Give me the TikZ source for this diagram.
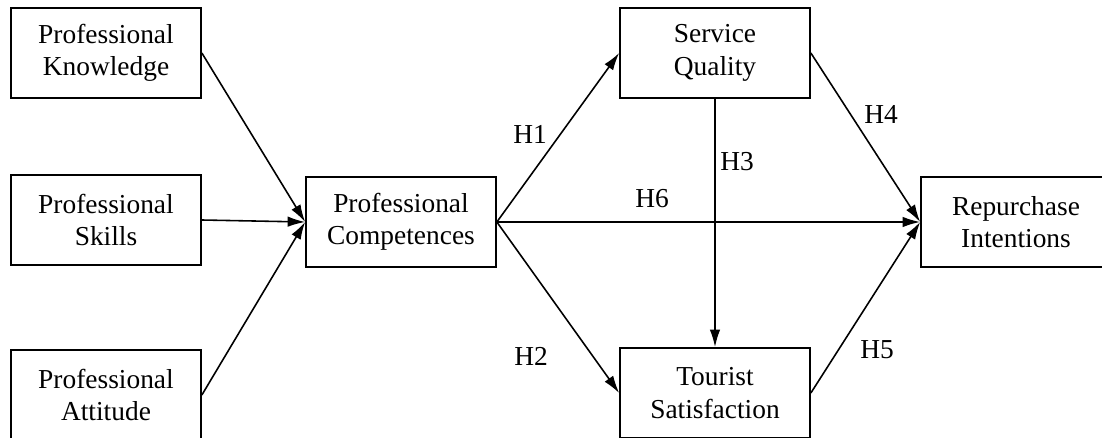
\documentclass[tikz,border=0pt]{standalone}
\usepackage{fontspec}
\setmainfont{Liberation Serif}
\usetikzlibrary{arrows.meta}

\begin{document}
\begin{tikzpicture}[x=0.02cm, y=-0.02cm]
	\tikzstyle{box} = [draw, line width=1pt, minimum width=3.8cm, minimum height=1.8cm, align=center, inner sep=0pt, font=\fontsize{15.6}{18.4}\selectfont]
	\tikzstyle{hyp} = [inner sep=0pt, font=\fontsize{15.6}{18.4}\selectfont]
	\tikzstyle{path} = [line width=0.9pt, -{Latex[length=3.5mm, width=2.1mm]}]
	\useasboundingbox (0,0) rectangle (1102,438);
	\clip (0,0) rectangle (1102,438);
	\node[box] (pk) at (106, 53) {Professional\\Knowledge};
	\node[box] (ps) at (106, 220) {Professional\\Skills};
	\node[box] (pa) at (106, 395) {Professional\\Attitude};
	\node[box] (pc) at (401, 222) {Professional\\Competences};
	\node[box] (sq) at (715, 53) {Service\\Quality};
	\node[box] (ts) at (715, 393) {Tourist\\Satisfaction};
	\node[box] (ri) at (1016, 222) {Repurchase\\Intentions};
	\node[hyp] (h1) at (530, 134) {H1};
	\node[hyp] (h2) at (531, 356) {H2};
	\node[hyp] (h3) at (737, 162) {H3};
	\node[hyp] (h4) at (881, 114) {H4};
	\node[hyp] (h5) at (877, 350) {H5};
	\node[hyp] (h6) at (652, 199) {H6};
	\draw [path] (pk.east)--(pc.west);
	\draw [path] (ps.east)--(pc.west);
	\draw [path] (pa.east)--(pc.west);
	\draw [path] (pc.east)--(sq.west);
	\draw [path] (pc.east)--(ts.west);
	\draw [path] (pc.east)--(ri.west);
	\draw [path] (sq.south)--(ts.north);
	\draw [path] (sq.east)--(ri.west);
	\draw [path] (ts.east)--(ri.west);
\end{tikzpicture}
\end{document}
